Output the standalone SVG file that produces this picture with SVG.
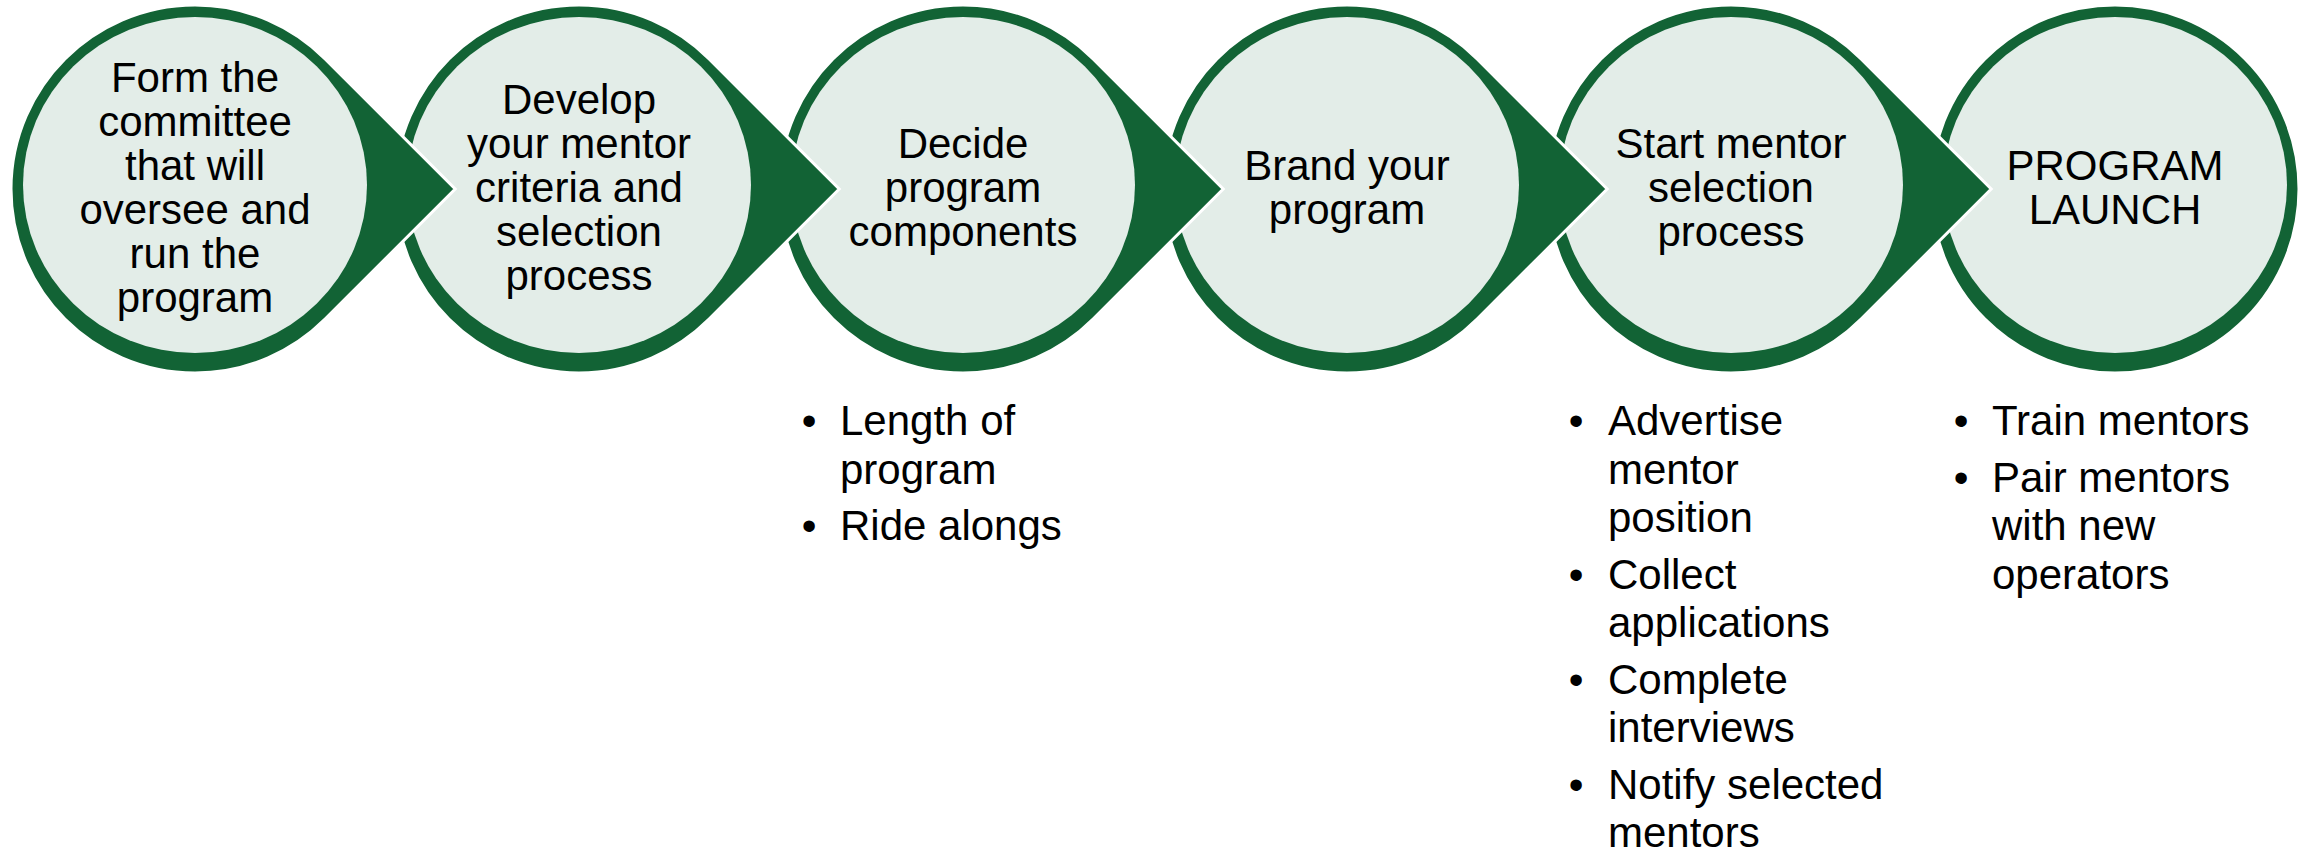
<svg xmlns="http://www.w3.org/2000/svg" xmlns:xlink="http://www.w3.org/1999/xlink" width="2313" height="854" viewBox="0 0 2313 854">
  <style>
    .drop { fill: #126335; stroke: #ffffff; stroke-width: 3; stroke-linejoin: miter; }
    .face { fill: #e3ede8; }
    .label { font-family: "Liberation Sans", Arial, sans-serif; font-size: 42px; fill: #000000; text-anchor: middle; }
    .item { font-family: "Liberation Sans", Arial, sans-serif; font-size: 42px; fill: #000000; }
    .dot { font-family: "Liberation Sans", Arial, sans-serif; font-size: 42px; fill: #000000; text-anchor: middle; }
  </style>
  <defs>
    <!-- circle of radius 184 with a 45-degree pointed tip to the right -->
    <path id="drop" d="M130.11,-130.11 L260.22,0 L130.11,130.11 A184,184 0 1 1 130.11,-130.11 Z"/>
  </defs>
  <rect width="2313" height="854" fill="#ffffff"/>

  <!-- steps are painted last-to-first so each tip sits over the next circle -->
  <g id="step6">
    <circle class="drop" cx="2115" cy="189" r="184"/>
    <ellipse class="face" cx="2115" cy="185" rx="172" ry="168"/>
    <text class="label" x="2115" y="180">PROGRAM</text>
    <text class="label" x="2115" y="224">LAUNCH</text>
    <text class="dot" x="1961" y="435">•</text>
    <text class="item" x="1992" y="435">Train mentors</text>
    <text class="dot" x="1961" y="491.5">•</text>
    <text class="item" x="1992" y="491.5">Pair mentors</text>
    <text class="item" x="1992" y="540">with new</text>
    <text class="item" x="1992" y="588.5">operators</text>
  </g>

  <g id="step5">
    <use xlink:href="#drop" href="#drop" class="drop" transform="translate(1731,189)"/>
    <ellipse class="face" cx="1731" cy="185" rx="172" ry="168"/>
    <text class="label" x="1731" y="158">Start mentor</text>
    <text class="label" x="1731" y="202">selection</text>
    <text class="label" x="1731" y="246">process</text>
    <text class="dot" x="1576" y="435">•</text>
    <text class="item" x="1608" y="435">Advertise</text>
    <text class="item" x="1608" y="483.5">mentor</text>
    <text class="item" x="1608" y="532">position</text>
    <text class="dot" x="1576" y="588.5">•</text>
    <text class="item" x="1608" y="588.5">Collect</text>
    <text class="item" x="1608" y="637">applications</text>
    <text class="dot" x="1576" y="693.5">•</text>
    <text class="item" x="1608" y="693.5">Complete</text>
    <text class="item" x="1608" y="742">interviews</text>
    <text class="dot" x="1576" y="798.5">•</text>
    <text class="item" x="1608" y="798.5">Notify selected</text>
    <text class="item" x="1608" y="847">mentors</text>
  </g>

  <g id="step4">
    <use xlink:href="#drop" href="#drop" class="drop" transform="translate(1347,189)"/>
    <ellipse class="face" cx="1347" cy="185" rx="172" ry="168"/>
    <text class="label" x="1347" y="180">Brand your</text>
    <text class="label" x="1347" y="224">program</text>
  </g>

  <g id="step3">
    <use xlink:href="#drop" href="#drop" class="drop" transform="translate(963,189)"/>
    <ellipse class="face" cx="963" cy="185" rx="172" ry="168"/>
    <text class="label" x="963" y="158">Decide</text>
    <text class="label" x="963" y="202">program</text>
    <text class="label" x="963" y="246">components</text>
    <text class="dot" x="809" y="435">•</text>
    <text class="item" x="840" y="435">Length of</text>
    <text class="item" x="840" y="483.5">program</text>
    <text class="dot" x="809" y="540">•</text>
    <text class="item" x="840" y="540">Ride alongs</text>
  </g>

  <g id="step2">
    <use xlink:href="#drop" href="#drop" class="drop" transform="translate(579,189)"/>
    <ellipse class="face" cx="579" cy="185" rx="172" ry="168"/>
    <text class="label" x="579" y="114">Develop</text>
    <text class="label" x="579" y="158">your mentor</text>
    <text class="label" x="579" y="202">criteria and</text>
    <text class="label" x="579" y="246">selection</text>
    <text class="label" x="579" y="290">process</text>
  </g>

  <g id="step1">
    <use xlink:href="#drop" href="#drop" class="drop" transform="translate(195,189)"/>
    <ellipse class="face" cx="195" cy="185" rx="172" ry="168"/>
    <text class="label" x="195" y="92">Form the</text>
    <text class="label" x="195" y="136">committee</text>
    <text class="label" x="195" y="180">that will</text>
    <text class="label" x="195" y="224">oversee and</text>
    <text class="label" x="195" y="268">run the</text>
    <text class="label" x="195" y="312">program</text>
  </g>
</svg>
